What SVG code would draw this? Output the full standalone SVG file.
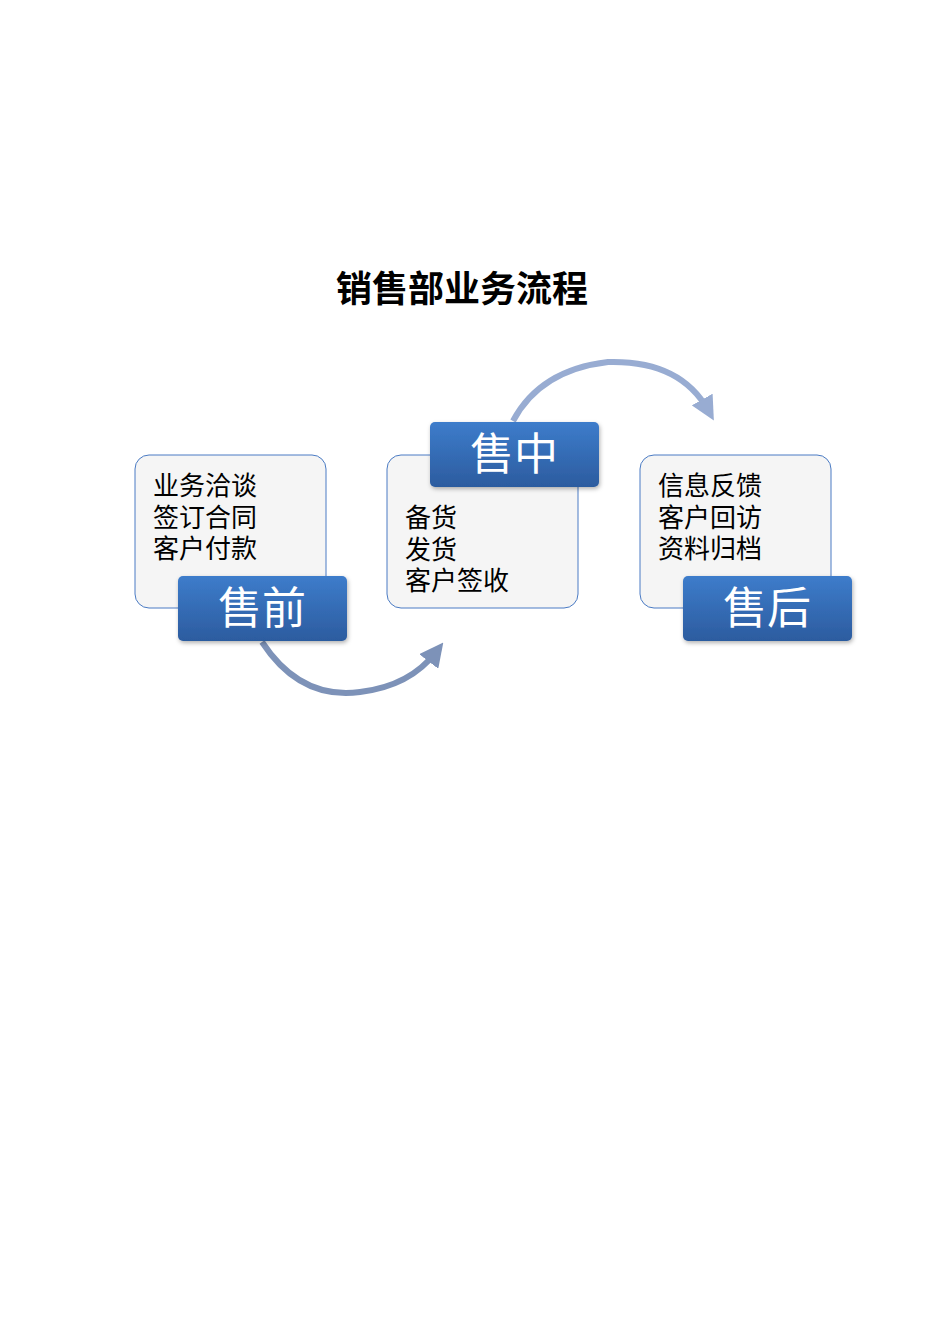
<svg xmlns="http://www.w3.org/2000/svg" width="950" height="1344" viewBox="0 0 950 1344">
<defs>
<linearGradient id="lg" x1="0" y1="0" x2="0" y2="1"><stop offset="0" stop-color="#3d7ccb"/><stop offset="1" stop-color="#2c5c9f"/></linearGradient>
<linearGradient id="ag1" x1="0" y1="0" x2="1" y2="0"><stop offset="0" stop-color="#8a9cbf"/><stop offset="1" stop-color="#7a8fb5"/></linearGradient>
<linearGradient id="ag2" x1="0" y1="0" x2="1" y2="0"><stop offset="0" stop-color="#a3b6d8"/><stop offset="1" stop-color="#94a9d0"/></linearGradient>
<marker id="m1" markerWidth="4" markerHeight="4" refX="2" refY="2" orient="auto" markerUnits="strokeWidth"><path d="M0,0 L4,2 L0,4 z" fill="#7d92b8"/></marker>
<marker id="m2" markerWidth="4" markerHeight="4" refX="2" refY="2" orient="auto" markerUnits="strokeWidth"><path d="M0,0 L4,2 L0,4 z" fill="#98acd2"/></marker>
<filter id="sh" x="-10%" y="-10%" width="130%" height="140%"><feDropShadow dx="1" dy="2" stdDeviation="2" flood-opacity="0.3"/></filter>
</defs>
<style>
.box{fill:#f5f5f5;stroke:#4a7bc4;stroke-width:1}
.lab{fill:url(#lg);filter:url(#sh)}
.t{font-family:"Liberation Sans","Noto Sans CJK SC",sans-serif;font-size:26px;fill:#000}
.lt{font-family:"Liberation Sans","Noto Sans CJK SC",sans-serif;font-size:44px;fill:#fff;text-anchor:middle}
</style>
<rect width="950" height="1344" fill="#fff"/>
<text x="462" y="302" text-anchor="middle" style="font-family:'Noto Sans CJK SC',sans-serif;font-size:36px;font-weight:bold">销售部业务流程</text>
<g id="connectors" fill="none">
<path d="M262,642 Q300,700 360,692 Q410,686 436,652" stroke="#7d92b8" stroke-width="6" marker-end="url(#m1)"/>
<path d="M513,421 Q540,370 608,362 Q680,360 708,410" stroke="#98acd2" stroke-width="6" marker-end="url(#m2)"/>
</g>
<g id="n1">
<rect class="box" x="135" y="455" width="191" height="153" rx="14"/>
<text class="t" x="153" y="495">业务洽谈</text><text class="t" x="153" y="527">签订合同</text><text class="t" x="153" y="558">客户付款</text>
<rect class="lab" x="178" y="576" width="169" height="65" rx="5"/>
<text class="lt" x="262" y="624">售前</text>
</g>
<g id="n2">
<rect class="box" x="387" y="455" width="191" height="153" rx="14"/>
<text class="t" x="405" y="527">备货</text><text class="t" x="405" y="559">发货</text><text class="t" x="405" y="590">客户签收</text>
<rect class="lab" x="430" y="422" width="169" height="65" rx="5"/>
<text class="lt" x="514" y="470">售中</text>
</g>
<g id="n3">
<rect class="box" x="640" y="455" width="191" height="153" rx="14"/>
<text class="t" x="658" y="495">信息反馈</text><text class="t" x="658" y="527">客户回访</text><text class="t" x="658" y="558">资料归档</text>
<rect class="lab" x="683" y="576" width="169" height="65" rx="5"/>
<text class="lt" x="767" y="624">售后</text>
</g>
</svg>
